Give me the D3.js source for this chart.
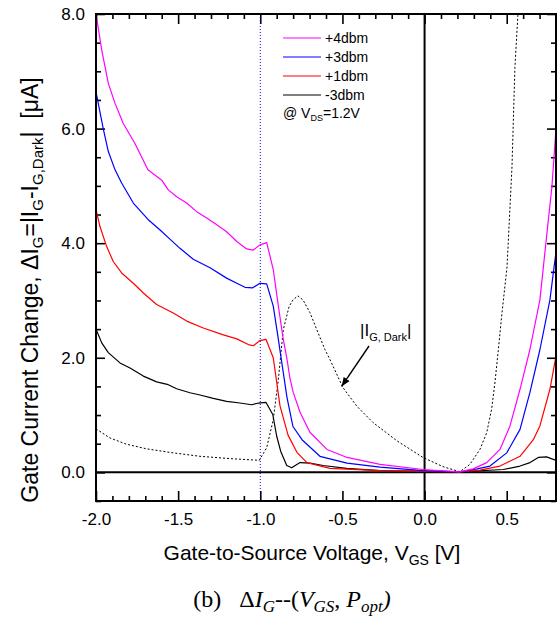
<!DOCTYPE html>
<html>
<head>
<meta charset="utf-8">
<script src="https://cdn.jsdelivr.net/npm/d3@7"></script>
<style>
  body { margin: 0; background: #fff; }
  svg text { font-family: "Liberation Sans", Arial, sans-serif; }
</style>
</head>
<body>
<div id="chart"></div>
<script>
// values (V_GS in V, current change in uA)
const p4Vgs = [-2.00, -1.965, -1.925, -1.884, -1.834, -1.763, -1.72, -1.684, -1.60, -1.56, -1.509, -1.448, -1.387, -1.326, -1.265, -1.205, -1.143, -1.083, -1.043, -1.002, -0.961, -0.921, -0.89, -0.86, -0.837, -0.82, -0.80, -0.758, -0.698, -0.594, -0.472, -0.271, -0.01, 0.215, 0.296, 0.378, 0.459, 0.52, 0.581, 0.641, 0.702, 0.745, 0.775, 0.80];
const p4Ig  = [8.0, 7.37, 6.79, 6.44, 6.09, 5.74, 5.49, 5.28, 5.10, 4.93, 4.81, 4.70, 4.55, 4.44, 4.32, 4.20, 4.03, 3.90, 3.88, 3.97, 4.01, 3.54, 2.90, 2.32, 1.97, 1.65, 1.40, 1.05, 0.70, 0.40, 0.26, 0.14, 0.05, 0.01, 0.06, 0.17, 0.40, 0.81, 1.45, 2.14, 3.01, 4.18, 4.98, 6.0];

const p3Vgs = [-2.00, -1.956, -1.925, -1.884, -1.844, -1.773, -1.682, -1.61, -1.55, -1.489, -1.408, -1.306, -1.205, -1.143, -1.093, -1.046, -1.002, -0.961, -0.921, -0.89, -0.86, -0.837, -0.801, -0.746, -0.637, -0.472, -0.271, -0.01, 0.215, 0.32, 0.398, 0.50, 0.581, 0.641, 0.702, 0.763, 0.80];
const p3Ig  = [6.64, 6.00, 5.60, 5.28, 5.05, 4.70, 4.41, 4.23, 4.07, 3.91, 3.72, 3.57, 3.39, 3.30, 3.23, 3.22, 3.30, 3.29, 2.90, 2.32, 1.74, 1.30, 0.80, 0.57, 0.28, 0.16, 0.09, 0.03, 0.01, 0.06, 0.11, 0.34, 0.75, 1.39, 2.14, 3.01, 3.85];

const p1Vgs = [-2.00, -1.976, -1.935, -1.895, -1.844, -1.773, -1.712, -1.631, -1.53, -1.448, -1.347, -1.225, -1.143, -1.073, -1.042, -1.002, -0.965, -0.921, -0.88, -0.831, -0.777, -0.716, -0.576, -0.271, 0.215, 0.337, 0.459, 0.581, 0.662, 0.702, 0.763, 0.80];
const p1Ig  = [4.59, 4.29, 3.94, 3.68, 3.48, 3.30, 3.13, 2.93, 2.78, 2.64, 2.52, 2.40, 2.33, 2.23, 2.21, 2.30, 2.32, 2.00, 1.16, 0.65, 0.35, 0.17, 0.07, 0.03, 0.01, 0.04, 0.11, 0.28, 0.57, 0.81, 1.45, 2.03];

const m3Vgs = [-2.00, -1.965, -1.925, -1.854, -1.793, -1.712, -1.631, -1.56, -1.509, -1.428, -1.367, -1.286, -1.205, -1.124, -1.052, -1.011, -0.965, -0.924, -0.90, -0.876, -0.839, -0.809, -0.758, -0.698, -0.617, -0.474, -0.271, 0.215, 0.479, 0.581, 0.642, 0.692, 0.743, 0.80];
const m3Ig  = [2.50, 2.26, 2.09, 1.91, 1.82, 1.68, 1.58, 1.53, 1.46, 1.39, 1.35, 1.29, 1.24, 1.21, 1.18, 1.21, 1.22, 1.01, 0.63, 0.37, 0.12, 0.08, 0.17, 0.16, 0.12, 0.07, 0.03, 0.01, 0.05, 0.11, 0.17, 0.26, 0.27, 0.21];

// |I_G,Dark| (dotted), runs off the top near 0.57 V
const darkVgs = [-2.00, -1.915, -1.813, -1.691, -1.53, -1.367, -1.184, -1.006, -0.961, -0.921, -0.89, -0.86, -0.824, -0.801, -0.771, -0.74, -0.698, -0.649, -0.606, -0.576, -0.497, -0.411, -0.314, -0.168, -0.01, 0.112, 0.215, 0.276, 0.337, 0.378, 0.408, 0.428, 0.449, 0.469, 0.502, 0.532, 0.55, 0.568, 0.59];
const darkIg  = [0.76, 0.60, 0.49, 0.41, 0.34, 0.28, 0.24, 0.21, 0.43, 0.92, 1.62, 2.49, 2.90, 3.01, 3.08, 3.01, 2.79, 2.44, 2.14, 1.97, 1.48, 1.15, 0.87, 0.55, 0.26, 0.10, 0.01, 0.14, 0.40, 0.69, 1.10, 1.56, 2.14, 2.72, 3.59, 5.33, 7.07, 7.98, 9.0];

const legendLabels = ['+4dbm', '+3dbm', '+1dbm', '-3dbm'];
const seriesColors = ['#ff00ff', '#0000ff', '#ff0000', '#000000'];
const xMajorTicks = [-2.0, -1.5, -1.0, -0.5, 0.0, 0.5];
const yMajorTicks = [0, 2, 4, 6, 8];

const W = 557, H = 625;
const plot = { left: 96, top: 14, right: 556, bottom: 501 };

const svg = d3.select('#chart').append('svg')
    .attr('width', W)
    .attr('height', H);

const x = d3.scaleLinear().domain([-2, 0.8]).range([plot.left, plot.right]);
const y = d3.scaleLinear().domain([-0.5, 8]).range([plot.bottom, plot.top]);

const fmt = d => d.toFixed(1);
const xMinor = d3.range(-20, 9).map(d => d / 10).filter(d => Math.abs(d * 2 - Math.round(d * 2)) > 1e-6);
const yMinor = d3.range(-1, 17).map(d => d / 2).filter(d => d % 2 !== 0);

function styleAxis(g) {
    g.select('.domain').remove();
    g.selectAll('.tick line').attr('stroke', '#000').attr('stroke-width', 1.6);
    g.selectAll('.tick text').attr('fill', '#000');
    g.attr('font-size', 17).attr('font-family', '"Liberation Sans", Arial, sans-serif');
}

// bottom + top
svg.append('g').attr('transform', `translate(0,${plot.bottom})`)
    .call(d3.axisBottom(x).tickValues(xMajorTicks).tickSize(-10).tickPadding(12).tickFormat(fmt))
    .call(styleAxis);
svg.append('g').attr('transform', `translate(0,${plot.bottom})`)
    .call(d3.axisBottom(x).tickValues(xMinor).tickSize(-5).tickFormat(''))
    .call(styleAxis);
svg.append('g').attr('transform', `translate(0,${plot.top})`)
    .call(d3.axisTop(x).tickValues(xMajorTicks).tickSize(-10).tickFormat(''))
    .call(styleAxis);
svg.append('g').attr('transform', `translate(0,${plot.top})`)
    .call(d3.axisTop(x).tickValues(xMinor).tickSize(-5).tickFormat(''))
    .call(styleAxis);

// left + right
svg.append('g').attr('transform', `translate(${plot.left},0)`)
    .call(d3.axisLeft(y).tickValues(yMajorTicks).tickSize(-9).tickPadding(11).tickFormat(fmt))
    .call(styleAxis);
svg.append('g').attr('transform', `translate(${plot.left},0)`)
    .call(d3.axisLeft(y).tickValues(yMinor).tickSize(-5).tickFormat(''))
    .call(styleAxis);
svg.append('g').attr('transform', `translate(${plot.right},0)`)
    .call(d3.axisRight(y).tickValues(yMajorTicks).tickSize(-9).tickFormat(''))
    .call(styleAxis);
svg.append('g').attr('transform', `translate(${plot.right},0)`)
    .call(d3.axisRight(y).tickValues(yMinor).tickSize(-5).tickFormat(''))
    .call(styleAxis);

// reference lines
svg.append('line')
    .attr('x1', x(-1)).attr('x2', x(-1))
    .attr('y1', plot.top).attr('y2', plot.bottom)
    .attr('stroke', '#0000ff').attr('stroke-width', 1)
    .attr('stroke-dasharray', '1,2');
svg.append('line')
    .attr('x1', plot.left).attr('x2', plot.right)
    .attr('y1', y(0)).attr('y2', y(0))
    .attr('stroke', '#000').attr('stroke-width', 2);
svg.append('line')
    .attr('x1', x(0)).attr('x2', x(0))
    .attr('y1', plot.top).attr('y2', plot.bottom)
    .attr('stroke', '#000').attr('stroke-width', 2);

// curves
svg.append('clipPath').attr('id', 'clip')
    .append('rect')
    .attr('x', plot.left).attr('y', plot.top)
    .attr('width', plot.right - plot.left).attr('height', plot.bottom - plot.top);

const line = d3.line().x(d => x(d[0])).y(d => y(d[1]));
const zipPts = (xs, ys) => xs.map((v, i) => [v, ys[i]]);

const curves = svg.append('g').attr('clip-path', 'url(#clip)');

curves.append('path')
    .datum(zipPts(darkVgs, darkIg))
    .attr('fill', 'none')
    .attr('stroke', '#000')
    .attr('stroke-width', 1)
    .attr('stroke-dasharray', '2,2')
    .attr('d', line);

const series = [
    zipPts(m3Vgs, m3Ig),
    zipPts(p1Vgs, p1Ig),
    zipPts(p3Vgs, p3Ig),
    zipPts(p4Vgs, p4Ig)
];
const seriesCol = [seriesColors[3], seriesColors[2], seriesColors[1], seriesColors[0]];
series.forEach((pts, i) => {
    curves.append('path')
        .datum(pts)
        .attr('fill', 'none')
        .attr('stroke', seriesCol[i])
        .attr('stroke-width', 1.2)
        .attr('stroke-linejoin', 'round')
        .attr('d', line);
});

// frame
svg.append('rect')
    .attr('x', plot.left).attr('y', plot.top)
    .attr('width', plot.right - plot.left).attr('height', plot.bottom - plot.top)
    .attr('fill', 'none').attr('stroke', '#000').attr('stroke-width', 2);

// rich text helper: parts = [[text, isSub], ...]
function richText(t, parts, subSize, shift) {
    let down = false;
    parts.forEach(([s, sub]) => {
        const ts = t.append('tspan').text(s);
        if (sub && !down) { ts.attr('dy', shift); down = true; }
        else if (!sub && down) { ts.attr('dy', -shift); down = false; }
        if (sub) ts.attr('font-size', subSize);
    });
    return t;
}

// legend
const legend = svg.append('g');
legendLabels.forEach((lab, i) => {
    const ly = 38 + i * 19;
    legend.append('line')
        .attr('x1', 283).attr('x2', 321)
        .attr('y1', ly).attr('y2', ly)
        .attr('stroke', seriesColors[i]).attr('stroke-width', 1.2);
    legend.append('text')
        .attr('x', 325).attr('y', ly + 5)
        .attr('font-size', 14)
        .text(lab);
});
richText(legend.append('text').attr('x', 283).attr('y', 118).attr('font-size', 14),
    [['@ V', 0], ['DS', 1], ['=1.2V', 0]], 9, 3);

// annotation for dark current
richText(svg.append('text').attr('x', 360).attr('y', 336).attr('font-size', 17),
    [['|I', 0], ['G, Dark', 1], ['|', 0]], 11, 5);

svg.append('defs').append('marker')
    .attr('id', 'arrow')
    .attr('viewBox', '0 0 10 10')
    .attr('refX', 10).attr('refY', 5)
    .attr('markerWidth', 9).attr('markerHeight', 9)
    .attr('markerUnits', 'userSpaceOnUse')
    .attr('orient', 'auto')
    .append('path')
    .attr('d', 'M0,1 L10,5 L0,9 Z')
    .attr('fill', '#000');

svg.append('line')
    .attr('x1', 369).attr('y1', 346)
    .attr('x2', x(-0.505)).attr('y2', y(1.5))
    .attr('stroke', '#000').attr('stroke-width', 1.4)
    .attr('marker-end', 'url(#arrow)');

// axis titles
richText(svg.append('text')
        .attr('transform', 'translate(38,290) rotate(-90)')
        .attr('text-anchor', 'middle')
        .attr('font-size', 23),
    [['Gate Current Change, \u0394I', 0], ['G', 1], ['=|I', 0], ['G', 1], ['-I', 0], ['G,Dark', 1], ['|\u00a0\u00a0[\u03bcA]', 0]], 15, 5);

richText(svg.append('text')
        .attr('x', 312).attr('y', 560)
        .attr('text-anchor', 'middle')
        .attr('font-size', 21),
    [['Gate-to-Source Voltage, V', 0], ['GS', 1], [' [V]', 0]], 14, 5);

// caption
const cap = svg.append('text')
    .attr('x', 292).attr('y', 607)
    .attr('text-anchor', 'middle')
    .attr('font-size', 24)
    .style('font-family', '"Liberation Serif", "Times New Roman", serif');
cap.append('tspan').text('(b)\u00a0\u00a0\u00a0\u0394');
cap.append('tspan').attr('font-style', 'italic').text('I');
cap.append('tspan').attr('font-style', 'italic').attr('font-size', 17).attr('dy', 5).text('G');
cap.append('tspan').attr('dy', -5).text('--(');
cap.append('tspan').attr('font-style', 'italic').text('V');
cap.append('tspan').attr('font-style', 'italic').attr('font-size', 17).attr('dy', 5).text('GS');
cap.append('tspan').attr('dy', -5).text(', ');
cap.append('tspan').attr('font-style', 'italic').text('P');
cap.append('tspan').attr('font-style', 'italic').attr('font-size', 17).attr('dy', 5).text('opt');
cap.append('tspan').attr('font-style', 'italic').attr('dy', -5).text(')');
</script>
</body>
</html>
